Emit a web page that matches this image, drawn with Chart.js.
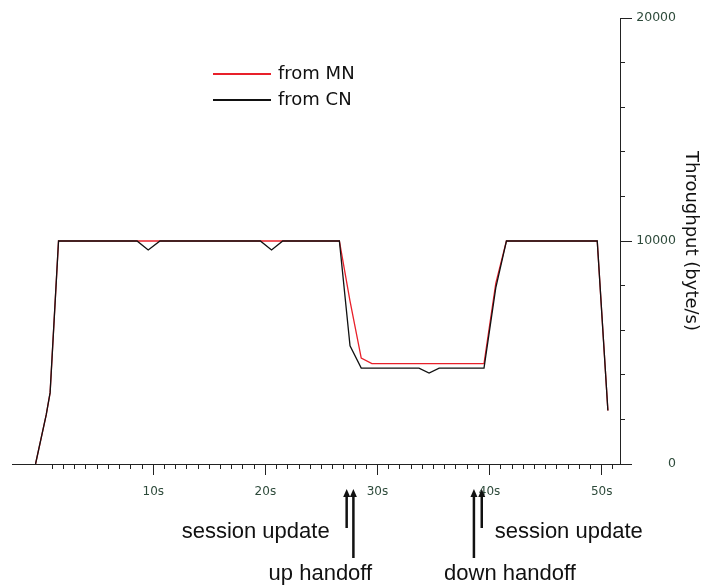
<!DOCTYPE html>
<html>
<head>
<meta charset="utf-8">
<script src="https://cdn.jsdelivr.net/npm/chart.js@4.4.0/dist/chart.umd.min.js"></script>
<style>
html, body { margin: 0; padding: 0; background: #fff; }
</style>
</head>
<body>
<canvas id="chart" width="713" height="585"></canvas>
<script>
// sample times (s) and throughput (byte/s)
const times  = [-0.5, 0.45, 0.8, 1.55, 8.55, 9.55, 10.6, 19.55, 20.55, 21.55, 26.6, 27.55, 28.55, 29.5, 33.7, 34.6, 35.5, 39.5, 40.55, 41.5, 49.6, 50.55];
const fromMN = [0, 2200, 3200, 10000, 10000, 10000, 10000, 10000, 10000, 10000, 10000, 7300, 4750, 4500, 4500, 4500, 4500, 4500, 8100, 10000, 10000, 2400];
const fromCN = [0, 2200, 3200, 10000, 10000, 9600, 10000, 10000, 9600, 10000, 10000, 5300, 4300, 4300, 4300, 4080, 4300, 4300, 7900, 10000, 10000, 2400];

const xMajorTicks = [10, 20, 30, 40, 50];
const xMinorTicks = Array.from({ length: 51 }, (_, i) => i + 1);

const handoffTimes = [27.25, 27.85, 38.6, 39.3];
const handoffLabels = ['session update', 'up handoff', 'down handoff', 'session update'];

const tickColor = '#2d4a3a';
const axisColor = '#222';

function points(values) {
    return times.map((t, i) => ({ x: t, y: values[i] }));
}

const overlay = {
    id: 'overlay',
    afterDraw(chart) {
        const ctx = chart.ctx;
        const area = chart.chartArea;
        const xs = chart.scales.x;
        ctx.save();

        // x axis runs a bit past the right axis
        ctx.strokeStyle = axisColor;
        ctx.lineWidth = 1;
        ctx.beginPath();
        ctx.moveTo(area.right, area.bottom + 0.5);
        ctx.lineTo(area.right + 12, area.bottom + 0.5);
        ctx.stroke();

        // legend
        ctx.font = '18px "DejaVu Sans"';
        ctx.textBaseline = 'middle';
        ctx.textAlign = 'left';
        chart.data.datasets.forEach((ds, i) => {
            const y = 74 + i * 26;
            ctx.strokeStyle = ds.borderColor;
            ctx.lineWidth = 2;
            ctx.beginPath();
            ctx.moveTo(213, y);
            ctx.lineTo(271, y);
            ctx.stroke();
            ctx.fillStyle = '#111';
            ctx.fillText(ds.label, 278, y);
        });

        // handoff arrows under the axis
        ctx.font = '22px "Liberation Sans"';
        ctx.textBaseline = 'alphabetic';
        ctx.fillStyle = '#111';
        ctx.strokeStyle = '#111';
        handoffTimes.forEach((t, i) => {
            const px = xs.getPixelForValue(t);
            const long = (i === 1 || i === 2);
            const tip = 489;
            ctx.lineWidth = 2.5;
            ctx.beginPath();
            ctx.moveTo(px, tip + 6);
            ctx.lineTo(px, long ? 558 : 528);
            ctx.stroke();
            ctx.beginPath();
            ctx.moveTo(px, tip);
            ctx.lineTo(px - 3.5, tip + 8);
            ctx.lineTo(px + 3.5, tip + 8);
            ctx.closePath();
            ctx.fill();

            const label = handoffLabels[i];
            if (i === 0) {
                ctx.textAlign = 'right';
                ctx.fillText(label, px - 17, 538);
            } else if (i === 1) {
                ctx.textAlign = 'center';
                ctx.fillText(label, px - 33, 580);
            } else if (i === 2) {
                ctx.textAlign = 'center';
                ctx.fillText(label, px + 36, 580);
            } else {
                ctx.textAlign = 'left';
                ctx.fillText(label, px + 13, 538);
            }
        });
        ctx.restore();
    }
};

new Chart(document.getElementById('chart'), {
    type: 'line',
    data: {
        datasets: [{
            label: 'from MN',
            data: points(fromMN),
            borderColor: '#e8202a',
            borderWidth: 1.3,
            pointRadius: 0,
            order: 2
        }, {
            label: 'from CN',
            data: points(fromCN),
            borderColor: '#111111',
            borderWidth: 1.3,
            pointRadius: 0,
            order: 1
        }]
    },
    options: {
        responsive: false,
        animation: false,
        layout: { padding: { left: 12, top: 18, right: 0, bottom: 0 } },
        plugins: {
            legend: { display: false },
            tooltip: { enabled: false }
        },
        scales: {
            xMinor: {
                type: 'linear',
                position: 'bottom',
                weight: 0,
                min: -2.6,
                max: 51.63,
                afterBuildTicks: s => { s.ticks = xMinorTicks.map(v => ({ value: v })); },
                afterFit: s => { s.height = 0; },
                ticks: { display: false },
                grid: { drawOnChartArea: false, tickLength: 5, tickColor: axisColor },
                border: { color: axisColor }
            },
            x: {
                type: 'linear',
                position: 'bottom',
                weight: 1,
                min: -2.6,
                max: 51.63,
                afterBuildTicks: s => { s.ticks = xMajorTicks.map(v => ({ value: v })); },
                afterFit: s => { s.height = 121; },
                ticks: {
                    padding: 10,
                    color: tickColor,
                    font: { family: '"DejaVu Sans"', size: 12 },
                    callback: v => v + 's'
                },
                grid: { drawOnChartArea: false, tickLength: 11, tickColor: axisColor },
                border: { color: axisColor }
            },
            yMinor: {
                type: 'linear',
                position: 'right',
                weight: 0,
                min: 0,
                max: 20000,
                afterFit: s => { s.width = 0; },
                ticks: { display: false, stepSize: 2000 },
                grid: { drawOnChartArea: false, tickLength: 5, tickColor: axisColor },
                border: { color: axisColor }
            },
            y: {
                type: 'linear',
                position: 'right',
                weight: 1,
                min: 0,
                max: 20000,
                afterFit: s => { s.width = 56; },
                ticks: {
                    stepSize: 10000,
                    padding: 4,
                    crossAlign: 'far',
                    color: tickColor,
                    font: { family: '"DejaVu Sans"', size: 12.5 },
                    callback: v => String(v)
                },
                grid: { drawOnChartArea: false, tickLength: 12, tickColor: axisColor },
                border: { color: axisColor }
            },
            yTitle: {
                type: 'linear',
                position: 'right',
                weight: 2,
                min: 0,
                max: 20000,
                afterFit: s => { s.width = 37; },
                ticks: { display: false },
                grid: { display: false },
                border: { display: false },
                title: {
                    display: true,
                    text: 'Throughput (byte/s)',
                    color: '#111',
                    font: { family: '"DejaVu Sans"', size: 18 },
                    padding: { top: 12, bottom: 0 }
                }
            }
        }
    },
    plugins: [overlay]
});
</script>
</body>
</html>
